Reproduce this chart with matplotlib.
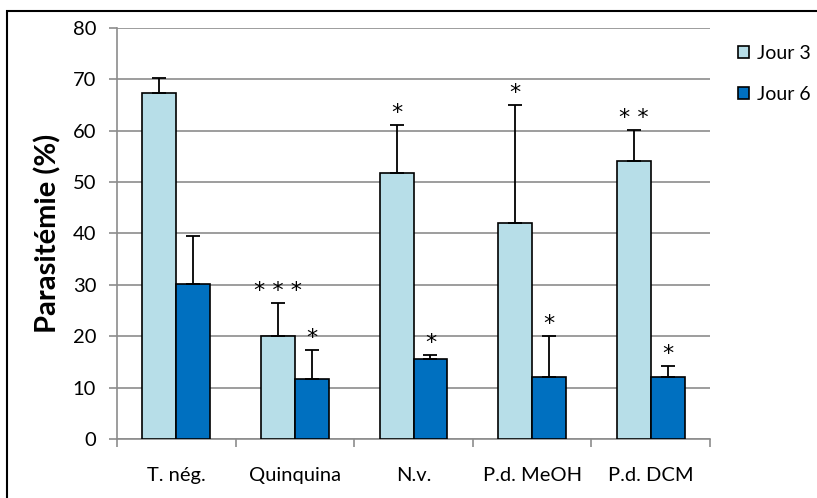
import matplotlib
matplotlib.use('Agg')
import numpy as np
import matplotlib.pyplot as plt
from matplotlib.patches import Rectangle

groups = ['T. nég.', 'Quinquina', 'N.v.', 'P.d. MeOH', 'P.d. DCM']
jour3 = [67.4, 20.1, 51.8, 42.1, 54.1]
jour3_err = [2.8, 6.3, 9.4, 22.9, 6.0]
jour6 = [30.2, 11.7, 15.6, 12.1, 12.1]
jour6_err = [9.4, 5.7, 0.7, 8.0, 2.1]
stars3 = ['', '* * *', '*', '*', '* *']
stars6 = ['', '*', '*', '*', '*']

plt.rcParams['font.family'] = ['Lato', 'DejaVu Sans']
fig = plt.figure(figsize=(8.17, 4.98), dpi=100)
ax = fig.add_axes([117/817, 1-439/498, (710-117)/817, (439-28)/498])

x = np.arange(len(groups))
w = 0.286
c3 = '#B7DEE8'
c6 = '#0070C0'
ax.bar(x - w/2, jour3, w, color=c3, edgecolor='black', linewidth=1.2, label='Jour 3', zorder=3)
ax.bar(x + w/2, jour6, w, color=c6, edgecolor='black', linewidth=1.2, label='Jour 6', zorder=3)
ax.errorbar(x - w/2, jour3, yerr=[np.zeros(5), jour3_err], fmt='none', ecolor='black',
            elinewidth=1.3, capsize=5, capthick=1.3, zorder=4)
ax.errorbar(x + w/2, jour6, yerr=[np.zeros(5), jour6_err], fmt='none', ecolor='black',
            elinewidth=1.3, capsize=5, capthick=1.3, zorder=4)

for i in range(len(groups)):
    if stars3[i]:
        ax.text(x[i] - w/2, jour3[i] + jour3_err[i] + 0.4, stars3[i], ha='center', va='bottom',
                fontsize=16, fontfamily='DejaVu Sans')
    if stars6[i]:
        ax.text(x[i] + w/2, jour6[i] + jour6_err[i] + 0.4, stars6[i], ha='center', va='bottom',
                fontsize=16, fontfamily='DejaVu Sans')

ax.set_xlim(-0.5, 4.5)
ax.set_ylim(0, 80)
ax.set_yticks(range(0, 81, 10))
ax.yaxis.grid(True, color='#8c8c8c', linewidth=1.2, zorder=0)
ax.set_axisbelow(True)
ax.set_xticks(np.arange(-0.5, 5, 1))
ax.set_xticklabels([])
ax.set_xticks(x, minor=True)
ax.set_xticklabels(groups, minor=True, fontsize=14.5)
ax.tick_params(axis='x', which='minor', length=0, pad=20)
ax.tick_params(axis='x', which='major', length=6, color='#8c8c8c', width=1.2)
ax.tick_params(axis='y', length=6, color='#8c8c8c', width=1.2, labelsize=14.5, pad=9)
for s in ['top', 'right']:
    ax.spines[s].set_visible(False)
for s in ['left', 'bottom']:
    ax.spines[s].set_color('#8c8c8c')
    ax.spines[s].set_linewidth(1.2)
ax.set_ylabel('Parasitémie (%)', fontsize=21, fontweight='bold', labelpad=8)

ax.legend(loc='upper left', bbox_to_anchor=(730/817, 1-37/498), bbox_transform=fig.transFigure,
          frameon=False, fontsize=14, handlelength=0.6, handleheight=0.6,
          labelspacing=1.25, handletextpad=0.4, borderaxespad=0)

fig.patches.append(Rectangle((7/817, -0.1), 1.2, 1 - 11/498 + 0.1, transform=fig.transFigure,
                             fill=False, edgecolor='black', linewidth=1.5))

fig.savefig('out.png', dpi=100)
